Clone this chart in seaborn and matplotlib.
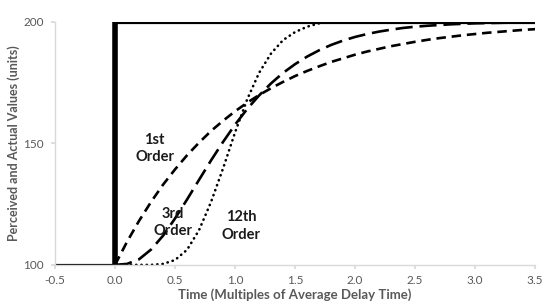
import seaborn as sns
import matplotlib.pyplot as plt
import pandas as pd

# step input (actual value)
step_t = [-0.5, 0.0, 0.0, 3.5]
step_v = [100, 100, 200, 200]

# perceived values, every 0.1 time units
delay_t = [round(0.1 * i, 1) for i in range(36)]
first_order = [100.0, 109.5, 118.1, 125.9, 133.0, 139.3, 145.1, 150.3, 155.1, 159.3,
               163.2, 166.7, 169.9, 172.7, 175.3, 177.7, 179.8, 181.7, 183.5, 185.0,
               186.5, 187.8, 188.9, 190.0, 190.9, 191.8, 192.6, 193.3, 193.9, 194.5,
               195.0, 195.5, 195.9, 196.3, 196.7, 197.0]
third_order = [100.0, 100.4, 102.3, 106.3, 112.0, 119.1, 126.9, 135.0, 143.0, 150.6,
               157.7, 164.1, 169.7, 174.7, 179.0, 182.6, 185.7, 188.3, 190.5, 192.3,
               193.8, 195.0, 196.0, 196.8, 197.5, 198.0, 198.4, 198.7, 199.0, 199.2,
               199.4, 199.5, 199.6, 199.7, 199.8, 199.8]
twelfth_order = [100.0, 100.0, 100.0, 100.0, 100.4, 102.0, 106.2, 114.3, 125.9, 139.7,
                 154.5, 168.0, 179.0, 187.0, 192.5, 195.8, 198.0, 199.4, 200.0, 200.0,
                 200.0, 200.0, 200.0, 200.0, 200.0, 200.0, 200.0, 200.0, 200.0, 200.0,
                 200.0, 200.0, 200.0, 200.0, 200.0, 200.0]

x_ticks = [-0.5, 0.0, 0.5, 1.0, 1.5, 2.0, 2.5, 3.0, 3.5]
y_ticks = [100, 150, 200]

sns.set_theme(style='white')
plt.rcParams['font.family'] = ['Lato', 'DejaVu Sans']

delay_df = pd.DataFrame({'t': delay_t, 'first': first_order,
                         'third': third_order, 'twelfth': twelfth_order})
step_df = pd.DataFrame({'t': step_t, 'v': step_v})

fig = plt.figure(figsize=(5.5, 3.08), dpi=100)
ax = fig.add_axes([0.1, 0.14, 0.873, 0.789])

sns.lineplot(data=delay_df, x='t', y='first', ax=ax, color='black', lw=1.9,
             linestyle=(0, (3.6, 2.2)))
sns.lineplot(data=delay_df, x='t', y='third', ax=ax, color='black', lw=1.9,
             linestyle=(0, (6.5, 2.6)))
sns.lineplot(data=delay_df, x='t', y='twelfth', ax=ax, color='black', lw=1.9,
             linestyle=(0, (0.1, 1.9)), dash_capstyle='round')
sns.lineplot(data=step_df, x='t', y='v', ax=ax, color='black', lw=2.3,
             estimator=None, sort=False)
# thicker vertical jump
sns.lineplot(data=step_df.iloc[1:3], x='t', y='v', ax=ax, color='black', lw=4,
             estimator=None, sort=False)

ax.set_xlim(-0.5, 3.5)
ax.set_ylim(100, 200)
ax.set_xticks(x_ticks)
ax.set_xticklabels([f'{v:.1f}' for v in x_ticks])
ax.set_yticks(y_ticks)
ax.tick_params(axis='x', bottom=True, length=3, color='#d9d9d9', colors='#595959',
               labelsize=8.5, pad=4)
ax.tick_params(axis='y', left=True, length=3, color='#d9d9d9', colors='#595959',
               labelsize=8.5, pad=5)
for lab in ax.get_xticklabels() + ax.get_yticklabels():
    lab.set_color('#595959')

for side in ['top', 'right']:
    ax.spines[side].set_visible(False)
for side in ['left', 'bottom']:
    ax.spines[side].set_color('#d9d9d9')
    ax.spines[side].set_linewidth(1)

ax.set_xlabel('Time (Multiples of Average Delay Time)', color='#595959',
              fontsize=9.5, fontweight='bold', labelpad=2)
ax.set_ylabel('Perceived and Actual Values (units)', color='#595959',
              fontsize=9, fontweight='bold', labelpad=2)

ax.text(0.33, 148, '1st\nOrder', ha='center', va='center', fontsize=10.5,
        fontweight='bold', color='#1a1a1a', linespacing=1.3)
ax.text(0.48, 117.5, '3rd\nOrder', ha='center', va='center', fontsize=10.5,
        fontweight='bold', color='#1a1a1a', linespacing=1.3)
ax.text(1.05, 116, '12th\nOrder', ha='center', va='center', fontsize=10.5,
        fontweight='bold', color='#1a1a1a', linespacing=1.3)

fig.savefig('out.png', dpi=100)
